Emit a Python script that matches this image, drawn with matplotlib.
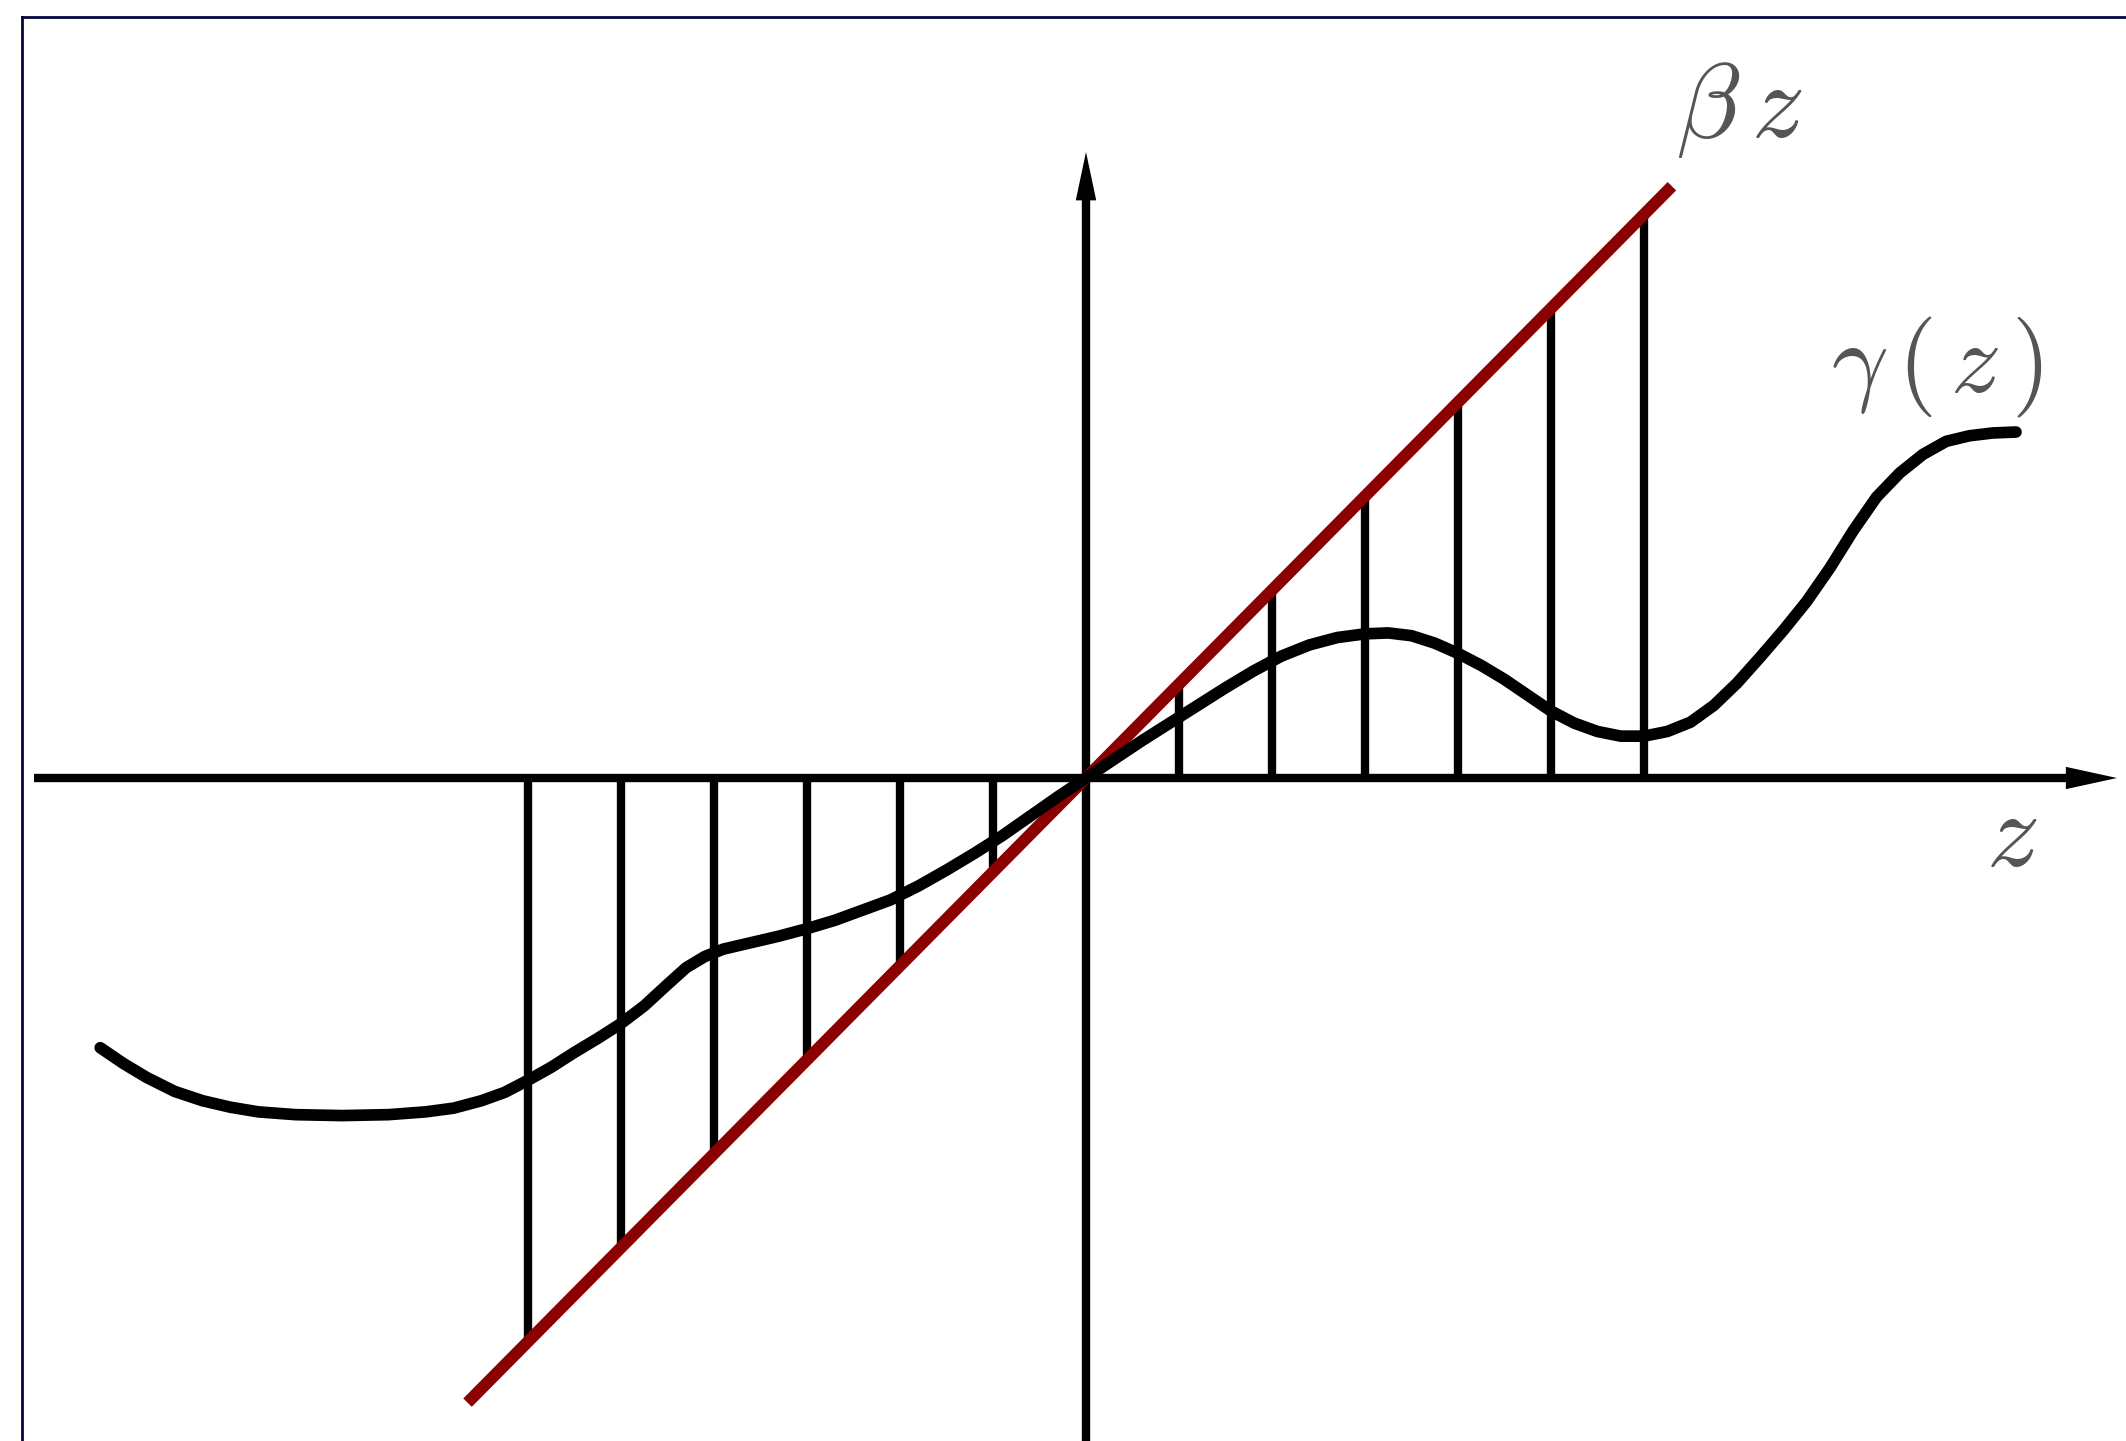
import numpy as np
import matplotlib
matplotlib.use('Agg')
import matplotlib.pyplot as plt
from matplotlib.lines import Line2D

plt.rcParams['mathtext.fontset'] = 'cm'

W, H = 2126, 1441
PX = 93.0                 # pixels per unit on both axes
ORIGIN = (1086, 778)      # origin in pixels from the top-left corner

BETA = 1.01
beta_line_z = [-6.65, 6.30]
stem_z = [-6, -5, -4, -3, -2, -1, 1, 2, 3, 4, 5, 6]

gamma_z = [-10.6, -10.35, -10.1, -9.8, -9.5, -9.2, -8.9, -8.5, -8.0, -7.5,
           -7.1, -6.8, -6.5, -6.25, -6.0, -5.75, -5.5, -5.25, -5.0, -4.75,
           -4.5, -4.3, -4.1, -3.9, -3.6, -3.3, -3.0, -2.7, -2.4, -2.1,
           -1.8, -1.5, -1.2, -0.9, -0.6, -0.3, 0.0, 0.3, 0.6, 0.9,
           1.2, 1.5, 1.8, 2.1, 2.4, 2.7, 3.0, 3.25, 3.5, 3.75,
           4.0, 4.25, 4.5, 4.75, 5.0, 5.25, 5.5, 5.75, 6.0, 6.25,
           6.5, 6.75, 7.0, 7.25, 7.5, 7.75, 8.0, 8.25, 8.5, 8.75,
           9.0, 9.25, 9.5, 9.75, 10.0]
gamma_y = [-2.90, -3.07, -3.22, -3.37, -3.47, -3.54, -3.59, -3.62, -3.63, -3.62,
           -3.59, -3.55, -3.47, -3.38, -3.25, -3.11, -2.95, -2.80, -2.64, -2.45,
           -2.22, -2.04, -1.92, -1.84, -1.77, -1.70, -1.62, -1.53, -1.42, -1.31,
           -1.16, -0.99, -0.81, -0.62, -0.41, -0.20, 0.0, 0.20, 0.40, 0.59,
           0.78, 0.97, 1.15, 1.31, 1.43, 1.51, 1.55, 1.56, 1.53, 1.45,
           1.34, 1.21, 1.06, 0.89, 0.72, 0.59, 0.50, 0.45, 0.45, 0.50,
           0.60, 0.78, 1.02, 1.30, 1.59, 1.90, 2.26, 2.66, 3.02, 3.28,
           3.48, 3.62, 3.68, 3.71, 3.72]


def px2data(x, y):
    return (x - ORIGIN[0]) / PX, (ORIGIN[1] - y) / PX


def main():
    fig = plt.figure(figsize=(W / 100, H / 100), dpi=100)
    ax = fig.add_axes([0, 0, 1, 1])
    ax.set_xlim(-ORIGIN[0] / PX, (W - ORIGIN[0]) / PX)
    ax.set_ylim(-(H - ORIGIN[1]) / PX, ORIGIN[1] / PX)
    ax.axis('off')

    # navy frame (left + top edges only)
    fx, fy = 21.5 / W, 1 - 16.5 / H
    fig.add_artist(Line2D([fx, fx], [0, fy], transform=fig.transFigure,
                          color='#05053f', lw=2.0))
    fig.add_artist(Line2D([fx, 1], [fy, fy], transform=fig.transFigure,
                          color='#05053f', lw=2.0))

    # coordinate axes with arrow heads
    x0, _ = px2data(34, 0)
    x1, _ = px2data(2117, 0)
    _, y0 = px2data(0, 1450)
    _, y1 = px2data(0, 152)
    ax.arrow(x0, 0, x1 - x0, 0, width=0.09, head_width=0.24, head_length=0.55,
             length_includes_head=True, color='black', lw=0, zorder=1)
    ax.arrow(0, y0, 0, y1 - y0, width=0.09, head_width=0.22, head_length=0.52,
             length_includes_head=True, color='black', lw=0, zorder=1)

    # stems from the axis up/down to beta*z
    stems = np.array(stem_z, dtype=float)
    ax.vlines(stems, 0, BETA * stems, color='black', lw=6.0, zorder=2)

    # the line beta*z
    bz = np.array(beta_line_z)
    ax.plot(bz, BETA * bz, color='#8b0000', lw=8.6,
            solid_capstyle='butt', zorder=3)

    # gamma(z)
    ax.plot(gamma_z, gamma_y, color='black', lw=8.4,
            solid_joinstyle='round', solid_capstyle='round', zorder=4)

    tc = '#555555'
    tx, ty = px2data(1676, 137)
    ax.text(tx, ty, r'$\beta\,z$', fontsize=76, color=tc,
            ha='left', va='baseline')
    tx, ty = px2data(1831, 392)
    ax.text(tx, ty, r'$\gamma\,(\,z\,)$', fontsize=72, color=tc,
            ha='left', va='baseline')
    tx, ty = px2data(1986, 866)
    ax.text(tx, ty, r'$z$', fontsize=76, color=tc,
            ha='left', va='baseline')

    fig.savefig('out.png', dpi=100)


if __name__ == '__main__':
    main()
